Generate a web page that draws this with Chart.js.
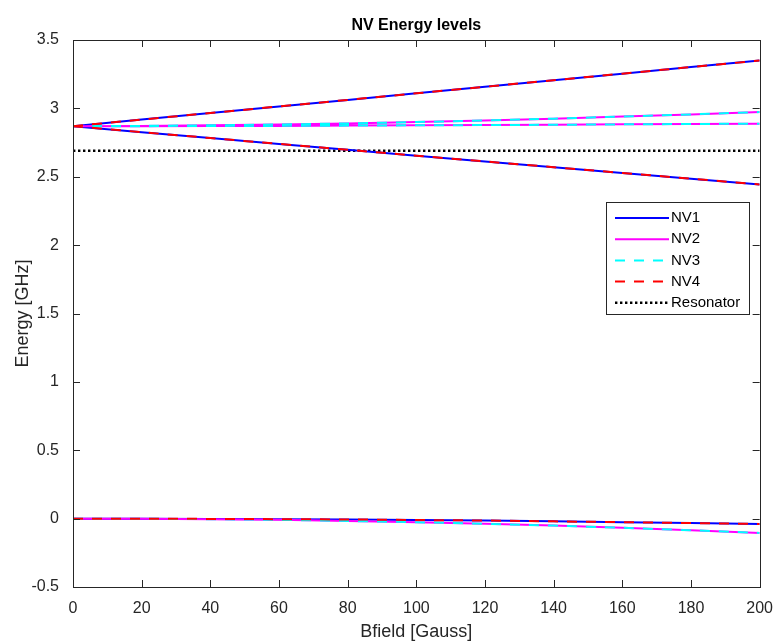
<!DOCTYPE html>
<html lang="en">
<head>
  <meta charset="UTF-8">
  <title>NV Energy levels</title>
  <script src="https://cdn.jsdelivr.net/npm/chart.js@4.4.0/dist/chart.umd.min.js"></script>
  <style>
    html, body { margin: 0; padding: 0; background: #fff; }
  </style>
</head>
<body>
  <canvas id="myChart" width="777" height="644"></canvas>
  <script>
    // values, one point every 20 Gauss
    const bfield = [0, 20, 40, 60, 80, 100, 120, 140, 160, 180, 200];

    const nv1Upper  = [2.870, 2.918, 2.966, 3.014, 3.062, 3.110, 3.158, 3.206, 3.254, 3.302, 3.350];
    const nv1Lower  = [2.870, 2.826, 2.783, 2.740, 2.697, 2.654, 2.612, 2.570, 2.528, 2.486, 2.444];
    const nv1Ground = [0.000, 0.000, -0.002, -0.004, -0.006, -0.010, -0.014, -0.020, -0.026, -0.032, -0.039];

    const nv2Upper  = [2.870, 2.872, 2.876, 2.882, 2.890, 2.900, 2.912, 2.925, 2.940, 2.956, 2.973];
    const nv2Middle = [2.870, 2.870, 2.871, 2.872, 2.874, 2.876, 2.878, 2.880, 2.883, 2.886, 2.888];
    const nv2Ground = [0.000, -0.001, -0.004, -0.009, -0.017, -0.026, -0.038, -0.051, -0.067, -0.085, -0.105];

    const nv3Upper  = [2.870, 2.872, 2.876, 2.882, 2.890, 2.900, 2.912, 2.925, 2.940, 2.956, 2.973];
    const nv3Middle = [2.870, 2.870, 2.871, 2.872, 2.874, 2.876, 2.878, 2.880, 2.883, 2.886, 2.888];
    const nv3Ground = [0.000, -0.001, -0.004, -0.009, -0.017, -0.026, -0.038, -0.051, -0.067, -0.085, -0.105];

    const nv4Upper  = [2.870, 2.918, 2.966, 3.014, 3.062, 3.110, 3.158, 3.206, 3.254, 3.302, 3.350];
    const nv4Lower  = [2.870, 2.826, 2.783, 2.740, 2.697, 2.654, 2.612, 2.570, 2.528, 2.486, 2.444];
    const nv4Ground = [0.000, 0.000, -0.002, -0.004, -0.006, -0.010, -0.014, -0.020, -0.026, -0.032, -0.039];

    const resonatorB = [0, 200];
    const resonatorLevel = [2.69, 2.69];

    const xTicks = [0, 20, 40, 60, 80, 100, 120, 140, 160, 180, 200];
    const yTicks = [-0.5, 0, 0.5, 1, 1.5, 2, 2.5, 3, 3.5];

    const FONT = "'Liberation Sans', Arial, Helvetica, sans-serif";
    const AXIS = '#262626';

    // three branches in one dataset, broken by a null point
    function branches(xs, ...levels) {
      const pts = [];
      levels.forEach((ys, k) => {
        if (k > 0) pts.push({ x: xs[xs.length - 1], y: null });
        xs.forEach((x, i) => pts.push({ x: x, y: ys[i] }));
      });
      return pts;
    }

    // matlab style box, inward ticks and legend
    const matlabBox = {
      id: 'matlabBox',
      afterDraw(chart) {
        const ctx = chart.ctx;
        const a = chart.chartArea;
        const sx = chart.scales.x, sy = chart.scales.y;
        const tl = 7;
        ctx.save();
        ctx.strokeStyle = AXIS;
        ctx.lineWidth = 1;
        ctx.beginPath();
        xTicks.forEach(v => {
          const px = Math.round(sx.getPixelForValue(v)) + 0.5;
          ctx.moveTo(px, a.bottom); ctx.lineTo(px, a.bottom - tl);
          ctx.moveTo(px, a.top); ctx.lineTo(px, a.top + tl);
        });
        yTicks.forEach(v => {
          const py = Math.round(sy.getPixelForValue(v)) + 0.5;
          ctx.moveTo(a.left, py); ctx.lineTo(a.left + tl, py);
          ctx.moveTo(a.right, py); ctx.lineTo(a.right - tl, py);
        });
        ctx.stroke();
        ctx.strokeRect(Math.round(a.left) + 0.5, Math.round(a.top) + 0.5,
          Math.round(a.right - a.left), Math.round(a.bottom - a.top));

        // legend
        const lx = 606, ly = 202, lw = 143, lh = 112, row = 21.2;
        ctx.fillStyle = '#fff';
        ctx.fillRect(lx, ly, lw, lh);
        ctx.strokeRect(lx + 0.5, ly + 0.5, lw, lh);
        ctx.font = '15px ' + FONT;
        ctx.textBaseline = 'middle';
        chart.data.datasets.forEach((ds, i) => {
          const y = ly + 16 + i * row;
          ctx.beginPath();
          ctx.setLineDash(ds.borderDash || []);
          ctx.strokeStyle = ds.borderColor;
          ctx.lineWidth = ds.borderWidth;
          ctx.moveTo(lx + 9, y);
          ctx.lineTo(lx + 63, y);
          ctx.stroke();
          ctx.setLineDash([]);
          ctx.fillStyle = '#000';
          ctx.fillText(ds.label, lx + 65, y);
        });
        ctx.restore();
      }
    };

    const ctx = document.getElementById('myChart').getContext('2d');
    const myChart = new Chart(ctx, {
      type: 'line',
      data: {
        datasets: [
          { label: 'NV1', data: branches(bfield, nv1Upper, nv1Lower, nv1Ground),
            borderColor: '#0000ff', borderWidth: 2, order: 4 },
          { label: 'NV2', data: branches(bfield, nv2Upper, nv2Middle, nv2Ground),
            borderColor: '#ff00ff', borderWidth: 2, order: 3 },
          { label: 'NV3', data: branches(bfield, nv3Upper, nv3Middle, nv3Ground),
            borderColor: '#00ffff', borderWidth: 2, borderDash: [10, 9], order: 2 },
          { label: 'NV4', data: branches(bfield, nv4Upper, nv4Lower, nv4Ground),
            borderColor: '#ff0000', borderWidth: 2, borderDash: [10, 9], order: 1 },
          { label: 'Resonator', data: resonatorB.map((x, i) => ({ x: x, y: resonatorLevel[i] })),
            borderColor: '#000000', borderWidth: 2.4, borderDash: [2.4, 2.6], order: 10 }
        ]
      },
      options: {
        responsive: false,
        animation: false,
        devicePixelRatio: 1,
        spanGaps: false,
        elements: { point: { radius: 0 }, line: { tension: 0, fill: false } },
        layout: { padding: { left: 0, right: 6, top: 0, bottom: 0 } },
        plugins: {
          legend: { display: false },
          tooltip: { enabled: false },
          title: {
            display: true,
            text: 'NV Energy levels',
            fullSize: false,
            color: '#000',
            font: { family: FONT, size: 16, weight: 'bold' },
            padding: { top: 16, bottom: 40 - 16 - 19.2 }
          }
        },
        scales: {
          x: {
            type: 'linear',
            min: 0, max: 200,
            afterFit: s => { s.height = 57; },
            afterBuildTicks: s => { s.ticks = xTicks.map(v => ({ value: v })); },
            grid: { display: false },
            border: { display: false },
            ticks: { color: AXIS, font: { family: FONT, size: 16 }, padding: 4, maxRotation: 0,
              callback: v => String(v) },
            title: { display: true, text: 'Bfield [Gauss]', color: AXIS,
              font: { family: FONT, size: 18 }, padding: { top: 0, bottom: 1 } }
          },
          y: {
            type: 'linear',
            min: -0.5, max: 3.5,
            afterFit: s => { s.width = 73; },
            afterBuildTicks: s => { s.ticks = yTicks.map(v => ({ value: v })); },
            grid: { display: false },
            border: { display: false },
            ticks: { color: AXIS, font: { family: FONT, size: 16 }, padding: 6,
              callback: v => String(v) },
            title: { display: true, text: 'Energy [GHz]', color: AXIS,
              font: { family: FONT, size: 18 }, padding: { top: 12, bottom: 0 } }
          }
        }
      },
      plugins: [matlabBox]
    });
  </script>
</body>
</html>
